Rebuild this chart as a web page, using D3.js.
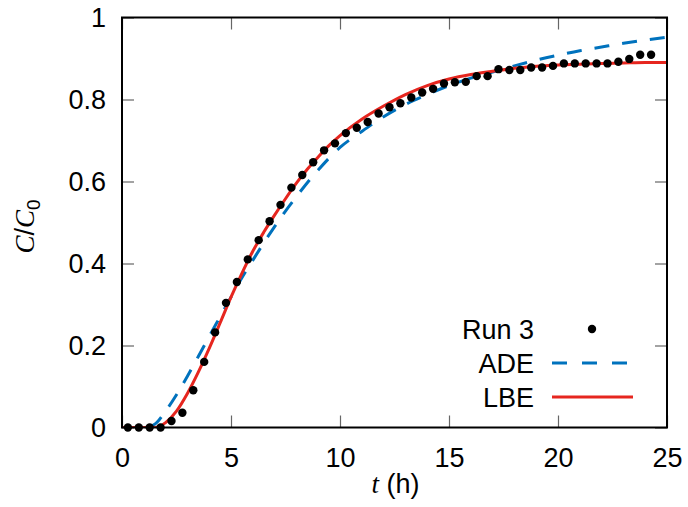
<!DOCTYPE html>
<html>
<head>
<meta charset="utf-8">
<script src="https://cdn.jsdelivr.net/npm/d3@7"></script>
<style>
  body { margin: 0; background: #fff; }
  text { font-family: "Liberation Sans", Arial, sans-serif; }
</style>
</head>
<body>
<svg width="688" height="507"></svg>
<script>
// measured run (points)
const runTime = [0.27, 0.77, 1.27, 1.77, 2.27, 2.77, 3.27, 3.77, 4.27, 4.77, 5.27, 5.77, 6.27, 6.77,
  7.27, 7.77, 8.27, 8.77, 9.27, 9.77, 10.27, 10.77, 11.27, 11.77, 12.27, 12.77, 13.27, 13.77,
  14.27, 14.77, 15.27, 15.77, 16.27, 16.77, 17.27, 17.77, 18.27, 18.77, 19.27, 19.77, 20.27,
  20.77, 21.27, 21.77, 22.27, 22.77, 23.27, 23.77, 24.27];
const runC = [0, 0, 0, 0, 0.016, 0.036, 0.091, 0.160, 0.232, 0.304, 0.355, 0.410, 0.457, 0.503,
  0.543, 0.585, 0.616, 0.647, 0.676, 0.693, 0.718, 0.731, 0.745, 0.766, 0.781, 0.791, 0.805, 0.817,
  0.826, 0.839, 0.842, 0.843, 0.857, 0.857, 0.874, 0.872, 0.872, 0.878, 0.878, 0.882, 0.888,
  0.888, 0.888, 0.888, 0.888, 0.892, 0.899, 0.909, 0.909];

// ADE fit (blue dashed)
const adeTime = [0, 1, 1.5, 2, 2.5, 3, 3.5, 4, 4.5, 5, 5.5, 6, 6.5, 7, 7.5, 8, 8.5, 9, 10, 11, 12,
  13, 14, 15, 16, 17, 18, 19, 20, 21, 22, 23, 24, 25];
const adeC = [0, 0, 0.008, 0.04, 0.08, 0.125, 0.173, 0.222, 0.27, 0.318, 0.365, 0.408, 0.45, 0.49,
  0.528, 0.563, 0.597, 0.628, 0.683, 0.722, 0.758, 0.788, 0.812, 0.834, 0.852, 0.867, 0.882, 0.896,
  0.908, 0.919, 0.928, 0.937, 0.945, 0.952];

// LBE fit (red solid)
const lbeTime = [0, 1.5, 2, 2.5, 3, 3.5, 4, 4.5, 5, 5.5, 6, 6.5, 7, 7.5, 8, 8.5, 9, 9.5, 10, 11,
  12, 13, 14, 15, 16, 17, 18, 19, 20, 21, 22, 23, 24, 25];
const lbeC = [0, 0, 0.012, 0.04, 0.083, 0.135, 0.193, 0.255, 0.318, 0.376, 0.43, 0.476, 0.518,
  0.558, 0.596, 0.63, 0.66, 0.688, 0.712, 0.752, 0.784, 0.812, 0.834, 0.85, 0.861, 0.869, 0.876,
  0.881, 0.884, 0.886, 0.888, 0.889, 0.89, 0.89];

const xTicks = [0, 5, 10, 15, 20, 25];
const yTicks = [0, 0.2, 0.4, 0.6, 0.8, 1];
const yTickLabels = ["0", "0.2", "0.4", "0.6", "0.8", "1"];

let margin = {top: 17.5, right: 21, bottom: 79.5, left: 122},
    width = 688 - margin.left - margin.right,
    height = 507 - margin.top - margin.bottom;

var svg = d3.select("svg");
var g = svg.append("g")
    .attr("transform", `translate(${margin.left},${margin.top})`);

var x = d3.scaleLinear().domain([0, 25]).range([0, width]);
var y = d3.scaleLinear().domain([0, 1]).range([height, 0]);

g.append("clipPath").attr("id", "clip")
  .append("rect").attr("width", width).attr("height", height);

// axes with inward ticks
const tickLen = 12;
g.append("g")
    .attr("transform", `translate(0,${height})`)
    .call(d3.axisBottom(x).tickValues(xTicks).tickSize(-tickLen).tickPadding(20))
    .call(a => a.select(".domain").remove());
g.append("g")
    .call(d3.axisTop(x).tickValues(xTicks).tickSize(-tickLen).tickFormat(""))
    .call(a => a.select(".domain").remove());
g.append("g")
    .call(d3.axisLeft(y).tickValues(yTicks).tickSize(-tickLen).tickPadding(16)
      .tickFormat((d, i) => yTickLabels[i]))
    .call(a => a.select(".domain").remove());
g.append("g")
    .attr("transform", `translate(${width},0)`)
    .call(d3.axisRight(y).tickValues(yTicks).tickSize(-tickLen).tickFormat(""))
    .call(a => a.select(".domain").remove());

g.selectAll(".tick line").attr("stroke", "#666").attr("stroke-width", 1.2);
g.selectAll(".tick text")
    .attr("font-size", 27)
    .attr("fill", "#000")
    .style("font-family", "'Liberation Sans', Arial, sans-serif");

// axis titles
g.append("text")
    .attr("x", width / 2 + 1)
    .attr("y", height + 65)
    .attr("text-anchor", "middle")
    .attr("font-size", 27)
    .html('<tspan font-style="italic" font-family="Liberation Serif, serif">t</tspan> (h)');

g.append("text")
    .attr("transform", `translate(${34 - margin.left},${height / 2 + 4}) rotate(-90)`)
    .attr("text-anchor", "middle")
    .attr("font-size", 27)
    .html('<tspan font-style="italic" font-family="Liberation Serif, serif">C</tspan>/<tspan font-style="italic" font-family="Liberation Serif, serif">C</tspan><tspan font-size="19" dy="6">0</tspan>');

// curves
var plot = g.append("g").attr("clip-path", "url(#clip)");

var line = d3.line()
    .x(d => x(d[0]))
    .y(d => y(d[1]))
    .curve(d3.curveMonotoneX);

plot.append("path")
    .datum(adeTime.map((t, i) => [t, adeC[i]]))
    .attr("fill", "none")
    .attr("stroke", "#0072bd")
    .attr("stroke-width", 3)
    .attr("stroke-dasharray", "15,13")
    .attr("d", line);

plot.append("path")
    .datum(lbeTime.map((t, i) => [t, lbeC[i]]))
    .attr("fill", "none")
    .attr("stroke", "#e6261f")
    .attr("stroke-width", 3)
    .attr("d", line);

g.selectAll(".pt")
    .data(runTime.map((t, i) => [t, runC[i]]))
    .enter()
    .append("circle")
    .attr("class", "pt")
    .attr("cx", d => x(d[0]))
    .attr("cy", d => y(d[1]))
    .attr("r", 4.2)
    .attr("fill", "#000");

// frame
g.append("rect")
    .attr("width", width)
    .attr("height", height)
    .attr("fill", "none")
    .attr("stroke", "#000")
    .attr("stroke-width", 2);

// legend
const legendNames = ["Run 3", "ADE", "LBE"];
let legend = svg.append("g");
legendNames.forEach((name, i) => {
    let yy = 329 + i * 34;
    legend.append("text")
        .attr("x", 534)
        .attr("y", yy + 10)
        .attr("text-anchor", "end")
        .attr("font-size", 27)
        .text(name);
    if (i === 0) {
        legend.append("circle").attr("cx", 592).attr("cy", yy).attr("r", 4.2).attr("fill", "#000");
    } else {
        legend.append("line")
            .attr("x1", 552).attr("x2", i === 1 ? 628 : 633)
            .attr("y1", yy).attr("y2", yy)
            .attr("stroke", i === 1 ? "#0072bd" : "#e6261f")
            .attr("stroke-width", 3)
            .attr("stroke-dasharray", i === 1 ? "15,15" : null);
    }
});
</script>
</body>
</html>
